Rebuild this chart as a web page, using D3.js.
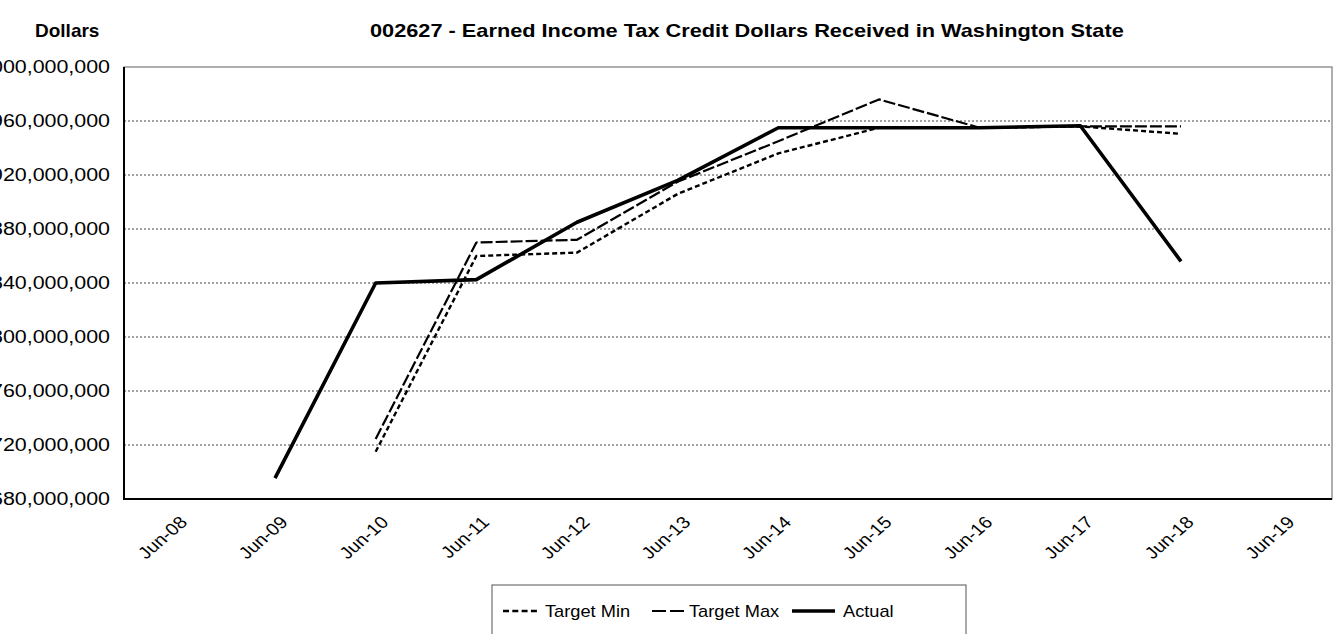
<!DOCTYPE html>
<html>
<head>
<meta charset="utf-8">
<script src="https://cdn.jsdelivr.net/npm/d3@7"></script>
<style>
  body { margin: 0; background: #fff; overflow: hidden; }
  text { font-family: "Liberation Sans", Arial, sans-serif; fill: #000; }
</style>
</head>
<body>
<script>
var width = 1335;
var height = 634;

var margin = { "top": 67,
               "bottom": 135,
               "left": 124,
               "right": 3 };

// data (dollars, in millions)
var periods = ["Jun-08", "Jun-09", "Jun-10", "Jun-11", "Jun-12", "Jun-13",
               "Jun-14", "Jun-15", "Jun-16", "Jun-17", "Jun-18", "Jun-19"];
var targetMin = [null, null, 715, 860, 862.5, 906, 936, 955, 955, 956, 950.5, null];
var targetMax = [null, null, 724.5, 870, 872, 915, 945, 976, 955, 956, 956, null];
var actual    = [null, 695.5, 840, 842.5, 885, 916, 955, 955, 955, 956.5, 856, null];
var yTicks = [680, 720, 760, 800, 840, 880, 920, 960, 1000];

var series = [
  { name: "Target Min", values: targetMin, width: 2.4, dash: "5,3" },
  { name: "Target Max", values: targetMax, width: 2.2, dash: "12,3" },
  { name: "Actual",     values: actual,    width: 3.6, dash: null }
];

var svg = d3.select("body")
            .append("svg")
            .attr("width", width)
            .attr("height", height);

var plotW = width - margin.left - margin.right;
var plotH = height - margin.top - margin.bottom;

var scaleX = d3.scalePoint().domain(periods).range([margin.left, margin.left + plotW]).padding(0.5);
var scaleY = d3.scaleLinear().domain([680, 1000]).range([margin.top + plotH, margin.top]);

// titles
svg.append("text")
    .attr("x", 35)
    .attr("y", 37)
    .attr("font-size", 19)
    .attr("font-weight", "bold")
    .text("Dollars");

svg.append("text")
    .attr("transform", "translate(370,37) scale(1.145,1)")
    .attr("font-size", 19)
    .attr("font-weight", "bold")
    .text("002627 - Earned Income Tax Credit Dollars Received in Washington State");

// plot frame
svg.append("rect")
    .attr("x", margin.left)
    .attr("y", margin.top)
    .attr("width", plotW)
    .attr("height", plotH)
    .attr("fill", "none")
    .attr("stroke", "#7a7a7a")
    .attr("stroke-width", 1.2);

// dotted gridlines
svg.append("g")
    .selectAll("line")
    .data(yTicks.slice(1, -1))
    .enter()
    .append("line")
    .attr("x1", margin.left)
    .attr("x2", margin.left + plotW)
    .attr("y1", function(d) { return scaleY(d) })
    .attr("y2", function(d) { return scaleY(d) })
    .attr("stroke", "#444")
    .attr("stroke-width", 1)
    .attr("stroke-dasharray", "2,2");

// y axis labels (left edge is cut off, as in the original)
var fmt = d3.format(",");
svg.append("g")
    .selectAll("text")
    .data(yTicks)
    .enter()
    .append("text")
    .attr("transform", function(d) { return "translate(110," + scaleY(d) + ") scale(1.19,1)" })
    .attr("text-anchor", "end")
    .attr("dy", "0.36em")
    .attr("font-size", 18)
    .text(function(d) { return fmt(d * 1e6) });

// x axis labels
svg.append("g")
    .selectAll("text")
    .data(periods)
    .enter()
    .append("text")
    .attr("transform", function(d) { return "translate(" + (scaleX(d) + 9) + ",519) scale(1.15,1) rotate(-45)" })
    .attr("text-anchor", "end")
    .attr("dy", "0.36em")
    .attr("font-size", 17)
    .text(function(d) { return d });

// axis lines
svg.append("line")
    .attr("x1", margin.left).attr("x2", margin.left)
    .attr("y1", margin.top).attr("y2", margin.top + plotH)
    .attr("stroke", "#000").attr("stroke-width", 2);
svg.append("line")
    .attr("x1", margin.left - 1).attr("x2", margin.left + plotW)
    .attr("y1", margin.top + plotH).attr("y2", margin.top + plotH)
    .attr("stroke", "#000").attr("stroke-width", 2);

// series lines
var line = d3.line()
    .defined(function(d) { return d.v != null })
    .x(function(d) { return scaleX(d.p) })
    .y(function(d) { return scaleY(d.v) });

series.forEach(function(s) {
  var pts = periods.map(function(p, i) { return { p: p, v: s.values[i] } });
  svg.append("path")
      .datum(pts)
      .attr("d", line)
      .attr("fill", "none")
      .attr("stroke", "#000")
      .attr("stroke-width", s.width)
      .attr("stroke-dasharray", s.dash)
      .attr("stroke-linejoin", "round");
});

// legend
var legend = svg.append("g");
legend.append("rect")
    .attr("x", 492)
    .attr("y", 585)
    .attr("width", 474)
    .attr("height", 80)
    .attr("fill", "#fff")
    .attr("stroke", "#555")
    .attr("stroke-width", 1);

var legendPos = [503, 652, 792];
var legendLen = [36, 32, 43];
var legendText = [545, 689, 843];
series.forEach(function(s, i) {
  legend.append("line")
      .attr("x1", legendPos[i])
      .attr("x2", legendPos[i] + legendLen[i])
      .attr("y1", 611)
      .attr("y2", 611)
      .attr("stroke", "#000")
      .attr("stroke-width", s.width)
      .attr("stroke-dasharray", i === 0 ? "6,3.3" : (i === 1 ? "14,4" : null));
  legend.append("text")
      .attr("transform", "translate(" + legendText[i] + ",617) scale(1.14,1)")
      .attr("font-size", 16)
      .text(s.name);
});
</script>
</body>
</html>
